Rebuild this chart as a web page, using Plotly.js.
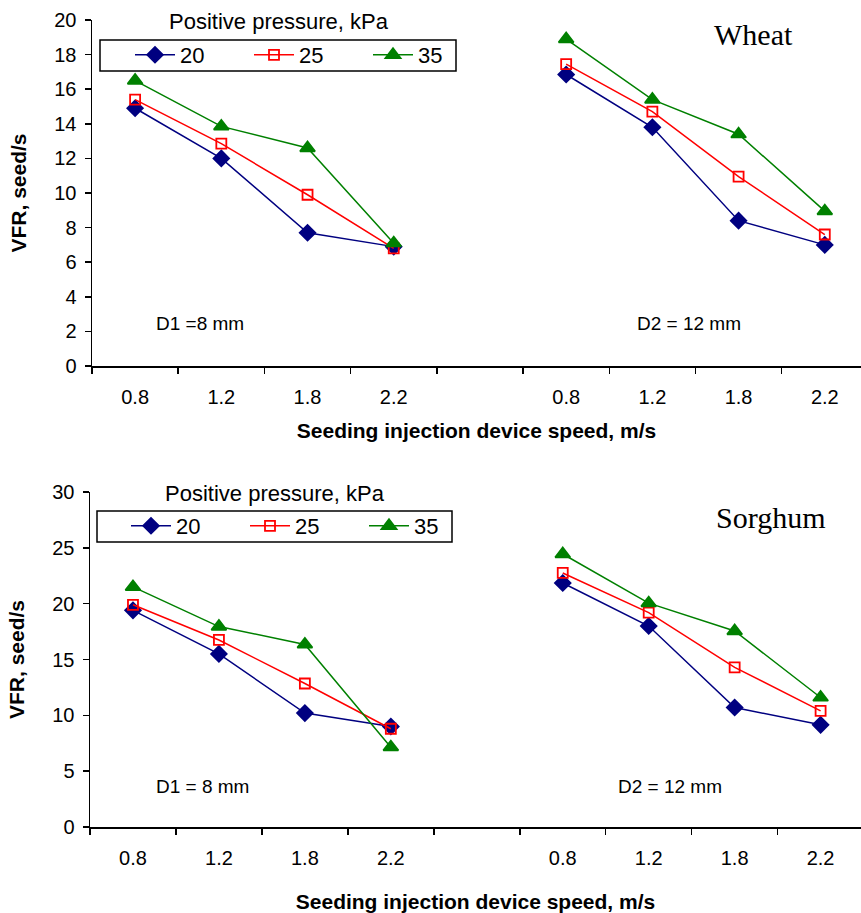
<!DOCTYPE html>
<html>
<head>
<meta charset="utf-8">
<script src="https://cdn.plot.ly/plotly-3.0.1.min.js"></script>
<style>html,body{margin:0;padding:0;background:#fff;}#chart{width:861px;height:913px;}</style>
</head>
<body>
<div id="chart"></div>
<script>
// ---- data ----
const speeds = ['0.8', '1.2', '1.8', '2.2'];
const pressures = ['20', '25', '35'];
const groups = ['D1', 'D2'];

// Wheat, VFR seed/s
const wheatD1_20 = [14.9, 12.0, 7.7, 6.9];
const wheatD1_25 = [15.4, 12.85, 9.9, 6.8];
const wheatD1_35 = [16.5, 13.85, 12.6, 7.1];
const wheatD2_20 = [16.85, 13.8, 8.4, 7.0];
const wheatD2_25 = [17.45, 14.7, 10.95, 7.6];
const wheatD2_35 = [18.9, 15.4, 13.4, 8.95];

// Sorghum, VFR seed/s
const sorgD1_20 = [19.4, 15.5, 10.2, 9.0];
const sorgD1_25 = [19.9, 16.75, 12.85, 8.8];
const sorgD1_35 = [21.5, 17.95, 16.35, 7.15];
const sorgD2_20 = [21.85, 18.0, 10.7, 9.15];
const sorgD2_25 = [22.75, 19.2, 14.3, 10.4];
const sorgD2_35 = [24.45, 20.05, 17.55, 11.6];

const wheatSeries = [[wheatD1_20, wheatD2_20], [wheatD1_25, wheatD2_25], [wheatD1_35, wheatD2_35]];
const sorgSeries = [[sorgD1_20, sorgD2_20], [sorgD1_25, sorgD2_25], [sorgD1_35, sorgD2_35]];

// ---- layout helpers ----
const W = 861, H = 913;
const px = v => v / W;
const py = v => 1 - v / H;
const FONT = 'Liberation Sans, Arial, sans-serif';
const SERIF = 'Liberation Serif, Times New Roman, serif';

const posD1 = speeds.map((s, i) => i);
const posD2 = speeds.map((s, i) => i + speeds.length + 1);
const xAll = posD1.concat([null], posD2);
const tickvals = posD1.concat(posD2);
const ticktext = speeds.concat(speeds);

const styles = [
  {color: '#000080', symbol: 'diamond', size: 12, fill: '#000080'},
  {color: '#FF0000', symbol: 'square-open', size: 10, fill: '#FF0000'},
  {color: '#008000', symbol: 'triangle-up', size: 13, fill: '#008000'}
];

const traces = [];
function addSeries(series, xa, ya, legendName) {
  series.forEach((pair, k) => {
    const st = styles[k];
    traces.push({
      type: 'scatter', mode: 'lines+markers',
      x: xAll, y: pair[0].concat([null], pair[1]),
      xaxis: xa, yaxis: ya, name: pressures[k], legend: legendName,
      connectgaps: false,
      line: {color: st.color, width: 1.5},
      marker: {symbol: st.symbol, size: st.size, color: st.fill, line: {color: st.color, width: 1.8}}
    });
  });
}
addSeries(wheatSeries, 'x', 'y', 'legend');
addSeries(sorgSeries, 'x2', 'y2', 'legend2');

function xaxisDef(domain, range, anchor, standoff) {
  return {
    domain: domain, range: range, anchor: anchor,
    tickmode: 'array', tickvals: tickvals, ticktext: ticktext,
    ticks: '', showgrid: false, zeroline: false,
    showline: true, linecolor: '#000', linewidth: 1.5,
    tickfont: {family: FONT, size: 20, color: '#000'},
    ticklabelstandoff: 12,
    minor: {tickmode: 'linear', tick0: -0.5, dtick: 1, ticks: 'outside', ticklen: 6, tickwidth: 1.5, tickcolor: '#000', showgrid: false},
    title: {text: 'Seeding injection device speed, m/s', font: {family: FONT, size: 21, color: '#000', weight: 'bold'}, standoff: standoff}
  };
}
function yaxisDef(domain, range, dtick, anchor) {
  return {
    domain: domain, range: range, anchor: anchor, dtick: dtick,
    ticks: 'outside', ticklen: 6, tickwidth: 1.5, tickcolor: '#000',
    showgrid: false, zeroline: false,
    showline: true, linecolor: '#000', linewidth: 1.5,
    tickfont: {family: FONT, size: 20, color: '#000'},
    ticklabelstandoff: 4,
    title: {text: 'VFR, seed/s', font: {family: FONT, size: 21, color: '#000', weight: 'bold'}, standoff: 22}
  };
}

const legendBase = {
  orientation: 'h', xanchor: 'left', yanchor: 'top',
  bordercolor: 'rgba(0,0,0,0)', borderwidth: 0, bgcolor: 'rgba(0,0,0,0)',
  font: {family: FONT, size: 22, color: '#000'},
  entrywidth: 64, entrywidthmode: 'pixels', itemwidth: 40,
  tracegroupgap: 0
};

function ann(text, x, y, font) {
  return {text: text, xref: 'paper', yref: 'paper', x: px(x), y: py(y), xanchor: 'center', yanchor: 'middle', showarrow: false, font: font};
}
function box(x0, y0, x1, y1) {
  return {type: 'rect', xref: 'paper', yref: 'paper', x0: px(x0), x1: px(x1), y0: py(y1), y1: py(y0),
          line: {color: '#000', width: 1.5}, fillcolor: '#fff', layer: 'above'};
}
const fLeg = {family: FONT, size: 22, color: '#000'};
const fCrop = {family: SERIF, size: 30, color: '#000'};
const fD = {family: FONT, size: 19, color: '#000'};

const layout = {
  width: W, height: H,
  margin: {l: 0, r: 0, t: 0, b: 0},
  paper_bgcolor: '#fff', plot_bgcolor: '#fff',
  showlegend: true,
  xaxis: xaxisDef([px(92), 1], [-0.5, 8.42], 'y', 17),
  yaxis: yaxisDef([py(366), py(20)], [0, 20], 2, 'x'),
  xaxis2: xaxisDef([px(90), 1], [-0.5, 8.47], 'y2', 29),
  yaxis2: yaxisDef([py(827), py(492)], [0, 30], 5, 'x2'),
  legend: Object.assign({}, legendBase, {x: px(130), y: py(34)}),
  legend2: Object.assign({}, legendBase, {x: px(126), y: py(505)}),
  shapes: [box(100, 40, 456, 71), box(97, 511, 452, 542)],
  annotations: [
    ann('Positive pressure, kPa', 279, 22, fLeg),
    ann('Positive pressure, kPa', 275, 493, fLeg),
    ann('Wheat', 753, 35, fCrop),
    ann('Sorghum', 770, 517, fCrop),
    ann('D1 =8 mm', 200, 323, fD),
    ann('D2 = 12 mm', 689, 323, fD),
    ann('D1 = 8 mm', 202, 786, fD),
    ann('D2 = 12 mm', 670, 786, fD)
  ]
};

Plotly.newPlot('chart', traces, layout, {displayModeBar: false, staticPlot: true});
</script>
</body>
</html>
